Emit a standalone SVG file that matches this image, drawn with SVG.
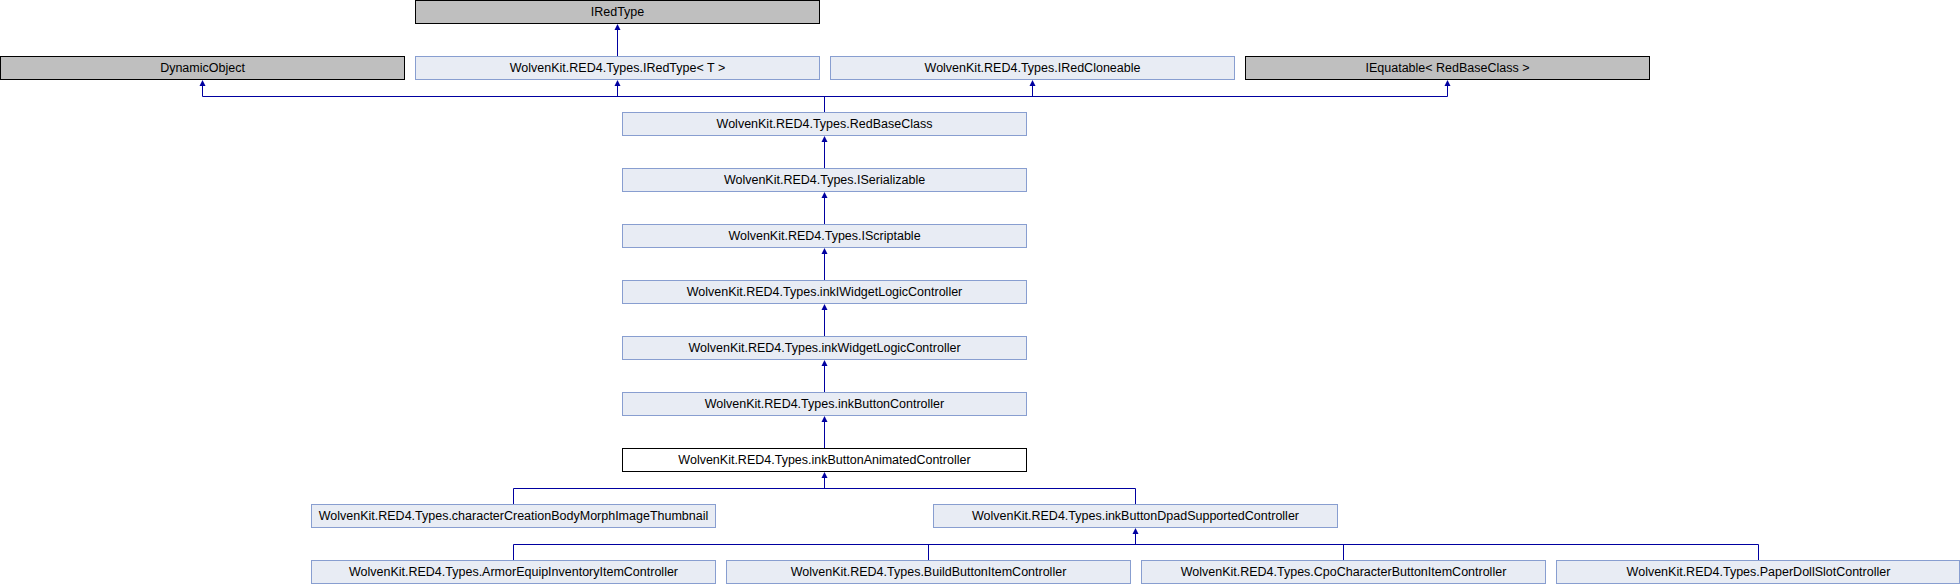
<svg xmlns="http://www.w3.org/2000/svg" width="1960" height="584" viewBox="0 0 1960 584">
<style>
.n rect{fill:#E8ECF4;stroke:#889ED0;stroke-width:1}
.g rect{fill:#BFBFBF;stroke:#000;stroke-width:1}
.w rect{fill:#FFFFFF;stroke:#000;stroke-width:1}
text{font-family:"Liberation Sans",Arial,sans-serif;font-size:12.5px;fill:#000;text-anchor:middle}
.e{fill:none;stroke:#0000A0;stroke-width:1}
.a{fill:#0000A0;stroke:none}
</style>
<rect width="1960" height="584" fill="#fff"/>
<g id="connectors">
<path class="e" d="M617.5 56V27"/>
<path class="e" d="M824.5 112V96.5M202.5 96.5H1447.5M202.5 96.5V83M617.5 96.5V83M1032.5 96.5V83M1447.5 96.5V83"/>
<path class="e" d="M824.5 168V139M824.5 224V195M824.5 280V251M824.5 336V307M824.5 392V363M824.5 448V419"/>
<path class="e" d="M824.5 488.5V475M513.5 488.5H1135.5M513.5 488.5V504M1135.5 488.5V504"/>
<path class="e" d="M1135.5 544.5V531M513.5 544.5H1758.5M513.5 544.5V560M928.5 544.5V560M1343.5 544.5V560M1758.5 544.5V560"/>
<g class="a">
<path d="M617.5 24l3 6h-6z"/>
<path d="M202.5 80l3 6h-6z"/>
<path d="M617.5 80l3 6h-6z"/>
<path d="M1032.5 80l3 6h-6z"/>
<path d="M1447.5 80l3 6h-6z"/>
<path d="M824.5 136l3 6h-6z"/>
<path d="M824.5 192l3 6h-6z"/>
<path d="M824.5 248l3 6h-6z"/>
<path d="M824.5 304l3 6h-6z"/>
<path d="M824.5 360l3 6h-6z"/>
<path d="M824.5 416l3 6h-6z"/>
<path d="M824.5 472l3 6h-6z"/>
<path d="M1135.5 528l3 6h-6z"/>
</g>
</g>
<g id="IRedType" class="g"><rect x="415.5" y="0.5" width="404" height="23"/><text x="617.5" y="16">IRedType</text></g>
<g id="DynamicObject" class="g"><rect x="0.5" y="56.5" width="404" height="23"/><text x="202.5" y="72">DynamicObject</text></g>
<g id="IRedTypeT" class="n"><rect x="415.5" y="56.5" width="404" height="23"/><text x="617.5" y="72">WolvenKit.RED4.Types.IRedType&lt; T &gt;</text></g>
<g id="IRedCloneable" class="n"><rect x="830.5" y="56.5" width="404" height="23"/><text x="1032.5" y="72">WolvenKit.RED4.Types.IRedCloneable</text></g>
<g id="IEquatable" class="g"><rect x="1245.5" y="56.5" width="404" height="23"/><text x="1447.5" y="72">IEquatable&lt; RedBaseClass &gt;</text></g>
<g id="RedBaseClass" class="n"><rect x="622.5" y="112.5" width="404" height="23"/><text x="824.5" y="128">WolvenKit.RED4.Types.RedBaseClass</text></g>
<g id="ISerializable" class="n"><rect x="622.5" y="168.5" width="404" height="23"/><text x="824.5" y="184">WolvenKit.RED4.Types.ISerializable</text></g>
<g id="IScriptable" class="n"><rect x="622.5" y="224.5" width="404" height="23"/><text x="824.5" y="240">WolvenKit.RED4.Types.IScriptable</text></g>
<g id="inkIWidgetLogicController" class="n"><rect x="622.5" y="280.5" width="404" height="23"/><text x="824.5" y="296">WolvenKit.RED4.Types.inkIWidgetLogicController</text></g>
<g id="inkWidgetLogicController" class="n"><rect x="622.5" y="336.5" width="404" height="23"/><text x="824.5" y="352">WolvenKit.RED4.Types.inkWidgetLogicController</text></g>
<g id="inkButtonController" class="n"><rect x="622.5" y="392.5" width="404" height="23"/><text x="824.5" y="408">WolvenKit.RED4.Types.inkButtonController</text></g>
<g id="inkButtonAnimatedController" class="w"><rect x="622.5" y="448.5" width="404" height="23"/><text x="824.5" y="464">WolvenKit.RED4.Types.inkButtonAnimatedController</text></g>
<g id="characterCreationBodyMorphImageThumbnail" class="n"><rect x="311.5" y="504.5" width="404" height="23"/><text x="513.5" y="520">WolvenKit.RED4.Types.characterCreationBodyMorphImageThumbnail</text></g>
<g id="inkButtonDpadSupportedController" class="n"><rect x="933.5" y="504.5" width="404" height="23"/><text x="1135.5" y="520">WolvenKit.RED4.Types.inkButtonDpadSupportedController</text></g>
<g id="ArmorEquipInventoryItemController" class="n"><rect x="311.5" y="560.5" width="404" height="23"/><text x="513.5" y="576">WolvenKit.RED4.Types.ArmorEquipInventoryItemController</text></g>
<g id="BuildButtonItemController" class="n"><rect x="726.5" y="560.5" width="404" height="23"/><text x="928.5" y="576">WolvenKit.RED4.Types.BuildButtonItemController</text></g>
<g id="CpoCharacterButtonItemController" class="n"><rect x="1141.5" y="560.5" width="404" height="23"/><text x="1343.5" y="576">WolvenKit.RED4.Types.CpoCharacterButtonItemController</text></g>
<g id="PaperDollSlotController" class="n"><rect x="1556.5" y="560.5" width="403" height="23"/><text x="1758.5" y="576">WolvenKit.RED4.Types.PaperDollSlotController</text></g>
</svg>
